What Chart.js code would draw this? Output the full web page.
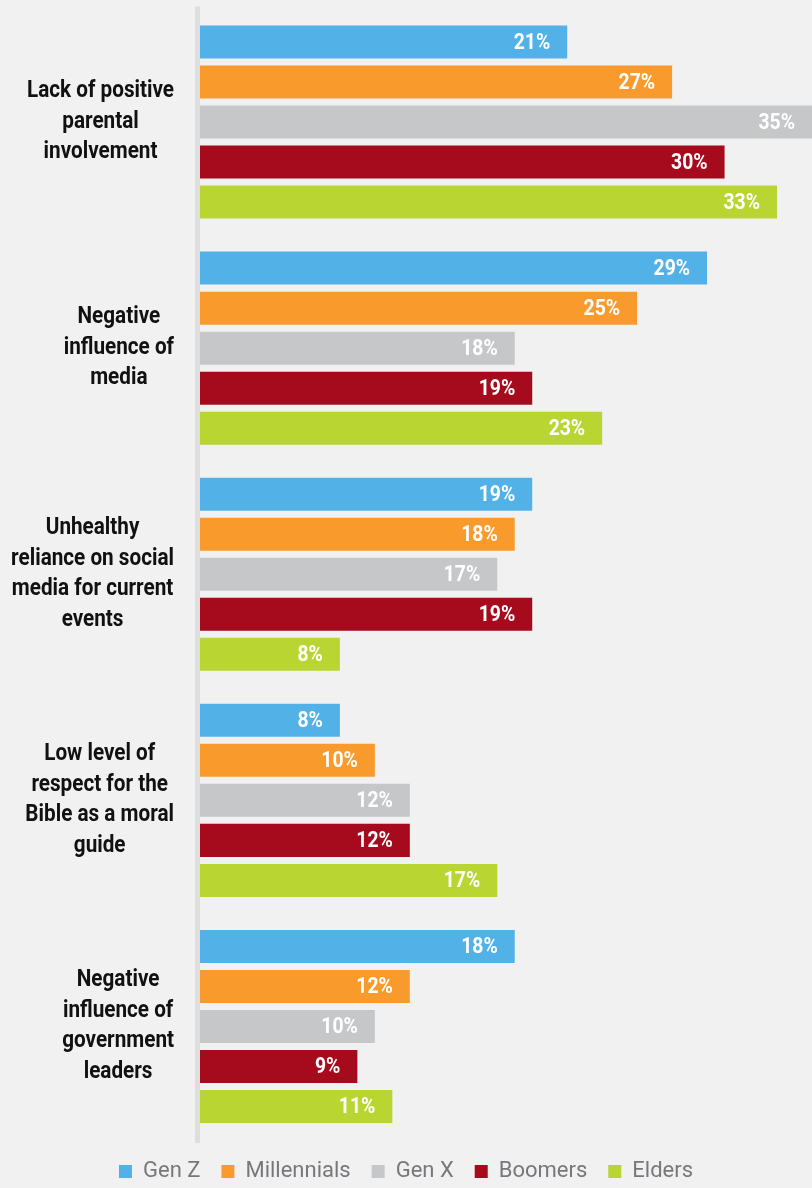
<!DOCTYPE html>
<html>
<head>
<meta charset="utf-8">
<script src="https://cdn.jsdelivr.net/npm/chart.js@4.4.1/dist/chart.umd.min.js"></script>
<style>
  html, body { margin: 0; padding: 0; background: #f1f1f1; }
  #wrap { width: 812px; height: 1188px; position: relative; }
</style>
</head>
<body>
<div id="wrap"><canvas id="issuesChart"></canvas></div>
<script>
// Category labels, one array of lines per group
const categories = [
  ["Lack of positive", "parental", "involvement"],
  ["Negative", "influence of", "media"],
  ["Unhealthy", "reliance on social", "media for current", "events"],
  ["Low level of", "respect for the", "Bible as a moral", "guide"],
  ["Negative", "influence of", "government", "leaders"]
];

const genZ        = [21, 29, 19, 8, 18];
const millennials = [27, 25, 18, 10, 12];
const genX        = [35, 18, 17, 12, 10];
const boomers     = [30, 19, 19, 12, 9];
const elders      = [33, 23, 8, 17, 11];

const FONT = "Roboto, 'Liberation Sans', sans-serif";

// squeeze text horizontally so Roboto reads like a condensed face
function drawNarrow(ctx, text, x, y, sx) {
  ctx.save();
  ctx.translate(x, y);
  ctx.scale(sx, 1);
  ctx.fillText(text, 0, 0);
  ctx.restore();
}

// thick grey line along the left of the bars
const axisLine = {
  id: "axisLine",
  beforeDatasetsDraw(chart) {
    const { ctx, chartArea } = chart;
    ctx.save();
    ctx.fillStyle = "#dddddd";
    ctx.fillRect(chartArea.left - 5, chartArea.top - 2.5, 5, chartArea.bottom - chartArea.top + 6);
    ctx.restore();
  }
};

// multi-line category labels, each block centred and pushed toward the axis
const categoryLabels = {
  id: "categoryLabels",
  afterDraw(chart) {
    const { ctx, chartArea } = chart;
    const yScale = chart.scales.y;
    const lineH = 30.5;
    const sx = 0.9;
    ctx.save();
    ctx.font = "bold 23px " + FONT;
    ctx.fillStyle = "#111111";
    ctx.textAlign = "center";
    ctx.textBaseline = "middle";
    categories.forEach((lines, i) => {
      const y = yScale.getPixelForTick(i);
      const w = Math.max(...lines.map(l => ctx.measureText(l).width)) * sx;
      const cx = chartArea.left - 26 - w / 2;
      lines.forEach((line, j) => {
        drawNarrow(ctx, line, cx, y + (j - (lines.length - 1) / 2) * lineH, sx);
      });
    });
    ctx.restore();
  }
};

// percentage labels inside the bar ends
const valueLabels = {
  id: "valueLabels",
  afterDatasetsDraw(chart) {
    const { ctx } = chart;
    ctx.save();
    ctx.font = "bold 22px " + FONT;
    ctx.fillStyle = "#ffffff";
    ctx.textAlign = "right";
    ctx.textBaseline = "middle";
    chart.data.datasets.forEach((ds, di) => {
      chart.getDatasetMeta(di).data.forEach((bar, i) => {
        drawNarrow(ctx, ds.data[i] + "%", bar.x - 17, bar.y + 1, 0.88);
      });
    });
    ctx.restore();
  }
};

const ctx = document.getElementById("issuesChart").getContext("2d");

new Chart(ctx, {
  type: "bar",
  data: {
    labels: categories,
    datasets: [
      { label: "Gen Z", data: genZ, backgroundColor: "#52b2e7" },
      { label: "Millennials", data: millennials, backgroundColor: "#f99b2c" },
      { label: "Gen X", data: genX, backgroundColor: "#c6c7c9" },
      { label: "Boomers", data: boomers, backgroundColor: "#a50b1d" },
      { label: "Elders", data: elders, backgroundColor: "#b9d532" }
    ]
  },
  options: {
    indexAxis: "y",
    responsive: true,
    maintainAspectRatio: false,
    animation: false,
    layout: { padding: { top: 9, bottom: -4.5, left: 0, right: 0 } },
    datasets: {
      bar: {
        borderWidth: 0,
        categoryPercentage: 200 / 226,
        barPercentage: 33 / 40
      }
    },
    scales: {
      x: { display: false, min: 0, max: 35 },
      y: {
        grid: { display: false },
        border: { display: false },
        ticks: { display: false },
        afterFit(scale) { scale.width = 200; }
      }
    },
    plugins: {
      tooltip: { enabled: false },
      legend: {
        position: "bottom",
        labels: {
          boxWidth: 13,
          boxHeight: 13,
          padding: 21,
          color: "#77787b",
          font: { family: FONT, size: 22 }
        }
      }
    }
  },
  plugins: [axisLine, categoryLabels, valueLabels]
});
</script>
</body>
</html>
